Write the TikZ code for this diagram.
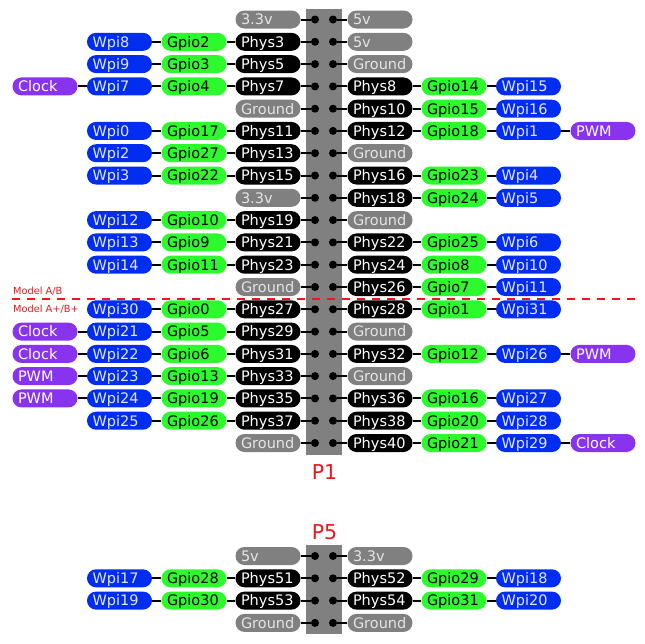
\documentclass[tikz,border=0pt]{standalone}
\usepackage{fontspec}
\setmainfont{DejaVu Sans}
\usetikzlibrary{shapes,arrows,positioning}

\definecolor{pingrey}{RGB}{128,128,128}
\definecolor{pingreen}{RGB}{44,250,44}
\definecolor{pinblue}{RGB}{0,45,240}
\definecolor{pinpurple}{RGB}{136,51,238}
\definecolor{pinred}{RGB}{240,20,30}

\begin{document}
\begin{tikzpicture}[x=1pt, y=-1pt,
    box/.style={rounded corners=9pt, minimum height=18pt, inner xsep=5.5pt, inner ysep=0pt,
        text width=54pt, align=left, text height=10.6pt, text depth=0pt,
        font=\fontsize{14.5}{16}\selectfont},
    pwr/.style={box, fill=pingrey, text=white!90!black},
    phys/.style={box, fill=black, text=white},
    gpio/.style={box, fill=pingreen, text=black},
    wpi/.style={box, fill=pinblue, text=blue!10!white},
    func/.style={box, fill=pinpurple, text=white},
    pin/.style={circle, fill=black, inner sep=0pt, minimum size=8pt},
    header/.style={fill=pingrey, minimum width=36pt, inner sep=0pt},
    wire/.style={line width=2pt},
    title/.style={text=pinred, font=\fontsize{20.5}{22}\selectfont},
    model/.style={text=pinred, font=\fontsize{9.8}{11}\selectfont, anchor=base west, inner sep=0pt}]
    \useasboundingbox (0,0) rectangle (645,643);

    % Headers
    \node[header, minimum height=446pt] (hdr1) at (324,232) {};
    \node[header, minimum height=89pt] (hdr5) at (324,589.5) {};
    \node[title] (p1) at (324.5,472.5) {P1};
    \node[title] (p5) at (324.5,532) {P5};

    % Model A/B separator
    \coordinate (sepl) at (12,299);
    \coordinate (sepr) at (638,299);
    \draw[pinred, line width=1.5pt, dash pattern=on 8pt off 7pt] (sepl) -- (sepr);
    \node[model] (modelab) at (13,294.5) {Model A/B};
    \node[model] (modelplus) at (13,312) {Model A+/B+};

    % P1 pins
    \node[pin] (pin1) at (315,19.5) {};   \node[pin] (pin2) at (333,19.5) {};
    \node[pin] (pin3) at (315,41.8) {};   \node[pin] (pin4) at (333,41.8) {};
    \node[pin] (pin5) at (315,64.1) {};   \node[pin] (pin6) at (333,64.1) {};
    \node[pin] (pin7) at (315,86.4) {};   \node[pin] (pin8) at (333,86.4) {};
    \node[pin] (pin9) at (315,108.7) {};  \node[pin] (pin10) at (333,108.7) {};
    \node[pin] (pin11) at (315,130.9) {}; \node[pin] (pin12) at (333,130.9) {};
    \node[pin] (pin13) at (315,153.2) {}; \node[pin] (pin14) at (333,153.2) {};
    \node[pin] (pin15) at (315,175.5) {}; \node[pin] (pin16) at (333,175.5) {};
    \node[pin] (pin17) at (315,197.8) {}; \node[pin] (pin18) at (333,197.8) {};
    \node[pin] (pin19) at (315,220.1) {}; \node[pin] (pin20) at (333,220.1) {};
    \node[pin] (pin21) at (315,242.4) {}; \node[pin] (pin22) at (333,242.4) {};
    \node[pin] (pin23) at (315,264.7) {}; \node[pin] (pin24) at (333,264.7) {};
    \node[pin] (pin25) at (315,287.0) {}; \node[pin] (pin26) at (333,287.0) {};
    \node[pin] (pin27) at (315,309.3) {}; \node[pin] (pin28) at (333,309.3) {};
    \node[pin] (pin29) at (315,331.6) {}; \node[pin] (pin30) at (333,331.6) {};
    \node[pin] (pin31) at (315,353.9) {}; \node[pin] (pin32) at (333,353.9) {};
    \node[pin] (pin33) at (315,376.1) {}; \node[pin] (pin34) at (333,376.1) {};
    \node[pin] (pin35) at (315,398.4) {}; \node[pin] (pin36) at (333,398.4) {};
    \node[pin] (pin37) at (315,420.7) {}; \node[pin] (pin38) at (333,420.7) {};
    \node[pin] (pin39) at (315,443.0) {}; \node[pin] (pin40) at (333,443.0) {};

    % P1 left column
    \node[pwr] (v33a) at (268,19.5) {3.3v};
    \node[wpi] (wpi8) at (119.5,41.8) {Wpi8};
    \node[gpio] (gpio2) at (194,41.8) {Gpio2};
    \node[phys] (phys3) at (268,41.8) {Phys3};
    \node[wpi] (wpi9) at (119.5,64.1) {Wpi9};
    \node[gpio] (gpio3) at (194,64.1) {Gpio3};
    \node[phys] (phys5) at (268,64.1) {Phys5};
    \node[func] (clk7) at (45,86.4) {Clock};
    \node[wpi] (wpi7) at (119.5,86.4) {Wpi7};
    \node[gpio] (gpio4) at (194,86.4) {Gpio4};
    \node[phys] (phys7) at (268,86.4) {Phys7};
    \node[pwr] (gnd9) at (268,108.7) {Ground};
    \node[wpi] (wpi0) at (119.5,130.9) {Wpi0};
    \node[gpio] (gpio17) at (194,130.9) {Gpio17};
    \node[phys] (phys11) at (268,130.9) {Phys11};
    \node[wpi] (wpi2) at (119.5,153.2) {Wpi2};
    \node[gpio] (gpio27) at (194,153.2) {Gpio27};
    \node[phys] (phys13) at (268,153.2) {Phys13};
    \node[wpi] (wpi3) at (119.5,175.5) {Wpi3};
    \node[gpio] (gpio22) at (194,175.5) {Gpio22};
    \node[phys] (phys15) at (268,175.5) {Phys15};
    \node[pwr] (v33b) at (268,197.8) {3.3v};
    \node[wpi] (wpi12) at (119.5,220.1) {Wpi12};
    \node[gpio] (gpio10) at (194,220.1) {Gpio10};
    \node[phys] (phys19) at (268,220.1) {Phys19};
    \node[wpi] (wpi13) at (119.5,242.4) {Wpi13};
    \node[gpio] (gpio9) at (194,242.4) {Gpio9};
    \node[phys] (phys21) at (268,242.4) {Phys21};
    \node[wpi] (wpi14) at (119.5,264.7) {Wpi14};
    \node[gpio] (gpio11) at (194,264.7) {Gpio11};
    \node[phys] (phys23) at (268,264.7) {Phys23};
    \node[pwr] (gnd25) at (268,287.0) {Ground};
    \node[wpi] (wpi30) at (119.5,309.3) {Wpi30};
    \node[gpio] (gpio0) at (194,309.3) {Gpio0};
    \node[phys] (phys27) at (268,309.3) {Phys27};
    \node[func] (clk21) at (45,331.6) {Clock};
    \node[wpi] (wpi21) at (119.5,331.6) {Wpi21};
    \node[gpio] (gpio5) at (194,331.6) {Gpio5};
    \node[phys] (phys29) at (268,331.6) {Phys29};
    \node[func] (clk22) at (45,353.9) {Clock};
    \node[wpi] (wpi22) at (119.5,353.9) {Wpi22};
    \node[gpio] (gpio6) at (194,353.9) {Gpio6};
    \node[phys] (phys31) at (268,353.9) {Phys31};
    \node[func] (pwm23) at (45,376.1) {PWM};
    \node[wpi] (wpi23) at (119.5,376.1) {Wpi23};
    \node[gpio] (gpio13) at (194,376.1) {Gpio13};
    \node[phys] (phys33) at (268,376.1) {Phys33};
    \node[func] (pwm24) at (45,398.4) {PWM};
    \node[wpi] (wpi24) at (119.5,398.4) {Wpi24};
    \node[gpio] (gpio19) at (194,398.4) {Gpio19};
    \node[phys] (phys35) at (268,398.4) {Phys35};
    \node[wpi] (wpi25) at (119.5,420.7) {Wpi25};
    \node[gpio] (gpio26) at (194,420.7) {Gpio26};
    \node[phys] (phys37) at (268,420.7) {Phys37};
    \node[pwr] (gnd39) at (268,443.0) {Ground};

    % P1 right column
    \node[pwr] (v5a) at (380,19.5) {5v};
    \node[pwr] (v5b) at (380,41.8) {5v};
    \node[pwr] (gnd6) at (380,64.1) {Ground};
    \node[phys] (phys8) at (380,86.4) {Phys8};
    \node[gpio] (gpio14) at (454,86.4) {Gpio14};
    \node[wpi] (wpi15) at (528.5,86.4) {Wpi15};
    \node[phys] (phys10) at (380,108.7) {Phys10};
    \node[gpio] (gpio15) at (454,108.7) {Gpio15};
    \node[wpi] (wpi16) at (528.5,108.7) {Wpi16};
    \node[phys] (phys12) at (380,130.9) {Phys12};
    \node[gpio] (gpio18) at (454,130.9) {Gpio18};
    \node[wpi] (wpi1) at (528.5,130.9) {Wpi1};
    \node[func] (pwm1) at (603,130.9) {PWM};
    \node[pwr] (gnd14) at (380,153.2) {Ground};
    \node[phys] (phys16) at (380,175.5) {Phys16};
    \node[gpio] (gpio23) at (454,175.5) {Gpio23};
    \node[wpi] (wpi4) at (528.5,175.5) {Wpi4};
    \node[phys] (phys18) at (380,197.8) {Phys18};
    \node[gpio] (gpio24) at (454,197.8) {Gpio24};
    \node[wpi] (wpi5) at (528.5,197.8) {Wpi5};
    \node[pwr] (gnd20) at (380,220.1) {Ground};
    \node[phys] (phys22) at (380,242.4) {Phys22};
    \node[gpio] (gpio25) at (454,242.4) {Gpio25};
    \node[wpi] (wpi6) at (528.5,242.4) {Wpi6};
    \node[phys] (phys24) at (380,264.7) {Phys24};
    \node[gpio] (gpio8) at (454,264.7) {Gpio8};
    \node[wpi] (wpi10) at (528.5,264.7) {Wpi10};
    \node[phys] (phys26) at (380,287.0) {Phys26};
    \node[gpio] (gpio7) at (454,287.0) {Gpio7};
    \node[wpi] (wpi11) at (528.5,287.0) {Wpi11};
    \node[phys] (phys28) at (380,309.3) {Phys28};
    \node[gpio] (gpio1) at (454,309.3) {Gpio1};
    \node[wpi] (wpi31) at (528.5,309.3) {Wpi31};
    \node[pwr] (gnd30) at (380,331.6) {Ground};
    \node[phys] (phys32) at (380,353.9) {Phys32};
    \node[gpio] (gpio12) at (454,353.9) {Gpio12};
    \node[wpi] (wpi26) at (528.5,353.9) {Wpi26};
    \node[func] (pwm26) at (603,353.9) {PWM};
    \node[pwr] (gnd34) at (380,376.1) {Ground};
    \node[phys] (phys36) at (380,398.4) {Phys36};
    \node[gpio] (gpio16) at (454,398.4) {Gpio16};
    \node[wpi] (wpi27) at (528.5,398.4) {Wpi27};
    \node[phys] (phys38) at (380,420.7) {Phys38};
    \node[gpio] (gpio20) at (454,420.7) {Gpio20};
    \node[wpi] (wpi28) at (528.5,420.7) {Wpi28};
    \node[phys] (phys40) at (380,443.0) {Phys40};
    \node[gpio] (gpio21) at (454,443.0) {Gpio21};
    \node[wpi] (wpi29) at (528.5,443.0) {Wpi29};
    \node[func] (clk29) at (603,443.0) {Clock};

    % P5 pins
    \node[pin] (q1) at (315,556.0) {}; \node[pin] (q2) at (333,556.0) {};
    \node[pin] (q3) at (315,578.3) {}; \node[pin] (q4) at (333,578.3) {};
    \node[pin] (q5) at (315,600.6) {}; \node[pin] (q6) at (333,600.6) {};
    \node[pin] (q7) at (315,622.9) {}; \node[pin] (q8) at (333,622.9) {};

    % P5 boxes
    \node[pwr] (v5c) at (268,556.0) {5v};
    \node[pwr] (v33c) at (380,556.0) {3.3v};
    \node[wpi] (wpi17) at (119.5,578.3) {Wpi17};
    \node[gpio] (gpio28) at (194,578.3) {Gpio28};
    \node[phys] (phys51) at (268,578.3) {Phys51};
    \node[phys] (phys52) at (380,578.3) {Phys52};
    \node[gpio] (gpio29) at (454,578.3) {Gpio29};
    \node[wpi] (wpi18) at (528.5,578.3) {Wpi18};
    \node[wpi] (wpi19) at (119.5,600.6) {Wpi19};
    \node[gpio] (gpio30) at (194,600.6) {Gpio30};
    \node[phys] (phys53) at (268,600.6) {Phys53};
    \node[phys] (phys54) at (380,600.6) {Phys54};
    \node[gpio] (gpio31) at (454,600.6) {Gpio31};
    \node[wpi] (wpi20) at (528.5,600.6) {Wpi20};
    \node[pwr] (gnd57) at (268,622.9) {Ground};
    \node[pwr] (gnd58) at (380,622.9) {Ground};

    % Wires, left side
    \draw[wire] (v33a) -- (pin1);
    \draw[wire] (wpi8) -- (gpio2) -- (phys3) -- (pin3);
    \draw[wire] (wpi9) -- (gpio3) -- (phys5) -- (pin5);
    \draw[wire] (clk7) -- (wpi7) -- (gpio4) -- (phys7) -- (pin7);
    \draw[wire] (gnd9) -- (pin9);
    \draw[wire] (wpi0) -- (gpio17) -- (phys11) -- (pin11);
    \draw[wire] (wpi2) -- (gpio27) -- (phys13) -- (pin13);
    \draw[wire] (wpi3) -- (gpio22) -- (phys15) -- (pin15);
    \draw[wire] (v33b) -- (pin17);
    \draw[wire] (wpi12) -- (gpio10) -- (phys19) -- (pin19);
    \draw[wire] (wpi13) -- (gpio9) -- (phys21) -- (pin21);
    \draw[wire] (wpi14) -- (gpio11) -- (phys23) -- (pin23);
    \draw[wire] (gnd25) -- (pin25);
    \draw[wire] (wpi30) -- (gpio0) -- (phys27) -- (pin27);
    \draw[wire] (clk21) -- (wpi21) -- (gpio5) -- (phys29) -- (pin29);
    \draw[wire] (clk22) -- (wpi22) -- (gpio6) -- (phys31) -- (pin31);
    \draw[wire] (pwm23) -- (wpi23) -- (gpio13) -- (phys33) -- (pin33);
    \draw[wire] (pwm24) -- (wpi24) -- (gpio19) -- (phys35) -- (pin35);
    \draw[wire] (wpi25) -- (gpio26) -- (phys37) -- (pin37);
    \draw[wire] (gnd39) -- (pin39);

    % Wires, right side
    \draw[wire] (pin2) -- (v5a);
    \draw[wire] (pin4) -- (v5b);
    \draw[wire] (pin6) -- (gnd6);
    \draw[wire] (pin8) -- (phys8) -- (gpio14) -- (wpi15);
    \draw[wire] (pin10) -- (phys10) -- (gpio15) -- (wpi16);
    \draw[wire] (pin12) -- (phys12) -- (gpio18) -- (wpi1) -- (pwm1);
    \draw[wire] (pin14) -- (gnd14);
    \draw[wire] (pin16) -- (phys16) -- (gpio23) -- (wpi4);
    \draw[wire] (pin18) -- (phys18) -- (gpio24) -- (wpi5);
    \draw[wire] (pin20) -- (gnd20);
    \draw[wire] (pin22) -- (phys22) -- (gpio25) -- (wpi6);
    \draw[wire] (pin24) -- (phys24) -- (gpio8) -- (wpi10);
    \draw[wire] (pin26) -- (phys26) -- (gpio7) -- (wpi11);
    \draw[wire] (pin28) -- (phys28) -- (gpio1) -- (wpi31);
    \draw[wire] (pin30) -- (gnd30);
    \draw[wire] (pin32) -- (phys32) -- (gpio12) -- (wpi26) -- (pwm26);
    \draw[wire] (pin34) -- (gnd34);
    \draw[wire] (pin36) -- (phys36) -- (gpio16) -- (wpi27);
    \draw[wire] (pin38) -- (phys38) -- (gpio20) -- (wpi28);
    \draw[wire] (pin40) -- (phys40) -- (gpio21) -- (wpi29) -- (clk29);

    % Wires, P5
    \draw[wire] (v5c) -- (q1);
    \draw[wire] (q2) -- (v33c);
    \draw[wire] (wpi17) -- (gpio28) -- (phys51) -- (q3);
    \draw[wire] (q4) -- (phys52) -- (gpio29) -- (wpi18);
    \draw[wire] (wpi19) -- (gpio30) -- (phys53) -- (q5);
    \draw[wire] (q6) -- (phys54) -- (gpio31) -- (wpi20);
    \draw[wire] (gnd57) -- (q7);
    \draw[wire] (q8) -- (gnd58);
\end{tikzpicture}
\end{document}
